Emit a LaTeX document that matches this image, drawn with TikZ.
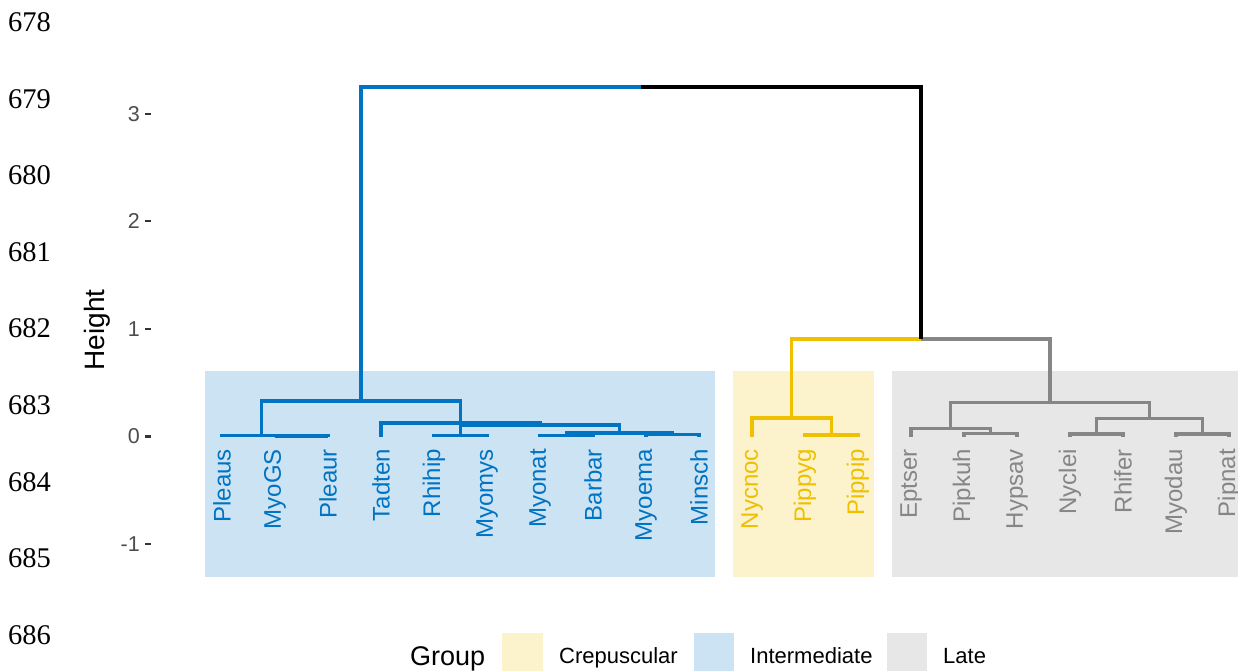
\documentclass[tikz,border=0pt]{standalone}
\usepackage{fontspec}
\setmainfont{Liberation Sans}
\newfontfamily\serifnum{Liberation Serif}
\definecolor{cblue}{HTML}{0073C2}
\definecolor{cyellow}{HTML}{EFC000}
\definecolor{cgray}{HTML}{868686}
\definecolor{fblue}{HTML}{CCE3F3}
\definecolor{fyellow}{HTML}{FCF2CC}
\definecolor{fgray}{HTML}{E7E7E7}
\definecolor{ticktext}{HTML}{4D4D4D}
\definecolor{tickline}{HTML}{333333}
\begin{document}
\begin{tikzpicture}[x=1pt,y=-1pt,
  br/.style={line width=3.4pt},
  leaflab/.style={rotate=90, anchor=east, inner sep=0pt, font=\fontsize{24}{24}\selectfont},
  ticklab/.style={anchor=east, inner sep=0pt, text=ticktext, font=\fontsize{21.5}{21.5}\selectfont},
  tickmark/.style={line width=2.2pt, tickline},
  rownum/.style={anchor=base west, inner sep=0pt, font=\serifnum\fontsize{28.5}{28.5}\selectfont},
  leglab/.style={anchor=base west, inner sep=0pt, font=\fontsize{22}{22}\selectfont}
]
\clip (0,0) rectangle (1238,670);
\fill[white] (0,0) rectangle (1238,670);

% row numbers at left
\foreach \n [count=\i from 0] in {678,...,686}
  \node[rownum] (row\n) at (8, 31.5+76.6*\i) {\n};

% group backgrounds
\fill[fblue] (205,371) rectangle (715,577);
\fill[fyellow] (733,371) rectangle (874,577);
\fill[fgray] (892,371) rectangle (1245,577);

% y axis
\node[rotate=90, inner sep=0pt, font=\fontsize{28}{28}\selectfont] (ylab) at (97,330) {Height};
\foreach \v/\y in {3/113.7, 2/221.3, 1/328.9, 0/436.5, -1/544.1}{
  \node[ticklab] at (140,\y) {\v};
  \draw[tickmark] (145,\y) -- (151,\y);
}

% leaves
\foreach \nm [count=\i from 0] in {Pleaus,MyoGS,Pleaur,Tadten,Rhihip,Myomys,Myonat,Barbar,Myoema,Minsch,Nycnoc,Pippyg,Pippip,Eptser,Pipkuh,Hypsav,Nyclei,Rhifer,Myodau,Pipnat}
  \coordinate (l\nm) at (222+53*\i, 436.5);

% internal nodes
\coordinate (nMG) at (301.5,435.9);
\coordinate (nP) at (261.75,435.3);
\coordinate (nRM) at (460.5,435.5);
\coordinate (nMB) at (566.5,435.5);
\coordinate (nMM) at (672.5,434.5);
\coordinate (nMBMM) at (619.5,433);
\coordinate (nR) at (540,425);
\coordinate (nT) at (460.5,423);
\coordinate (nA) at (361.1,401);
\coordinate (nPP) at (831.5,435);
\coordinate (nY) at (791.75,418);
\coordinate (nPH) at (990.5,433.3);
\coordinate (nE) at (950.75,428.3);
\coordinate (nNR) at (1096.5,434);
\coordinate (nMP) at (1202.5,434);
\coordinate (nG2) at (1149.5,418.3);
\coordinate (nG1) at (1050.1,402.7);
\coordinate (nK) at (920.9,339);
\coordinate (root) at (641,87);

% blue branches
\begin{scope}[br, cblue]
\draw (lMyoGS) |- (nMG); \draw (lPleaur) |- (nMG);
\draw (lPleaus) |- (nP); \draw (nMG) |- (nP);
\draw (lRhihip) |- (nRM); \draw (lMyomys) |- (nRM);
\draw (lMyonat) |- (nMB); \draw (lBarbar) |- (nMB);
\draw (lMyoema) |- (nMM); \draw (lMinsch) |- (nMM);
\draw (nMB) |- (nMBMM); \draw (nMM) |- (nMBMM);
\draw (nRM) |- (nR); \draw (nMBMM) |- (nR);
\draw (lTadten) |- (nT); \draw (nR) |- (nT);
\draw (nP) |- (nA); \draw (nT) |- (nA);
\draw (nA) |- (root);
\end{scope}
% yellow branches
\begin{scope}[br, cyellow]
\draw (lPippyg) |- (nPP); \draw (lPippip) |- (nPP);
\draw (lNycnoc) |- (nY); \draw (nPP) |- (nY);
\draw (nY) |- (nK);
\end{scope}
% gray branches
\begin{scope}[br, cgray]
\draw (lPipkuh) |- (nPH); \draw (lHypsav) |- (nPH);
\draw (lEptser) |- (nE); \draw (nPH) |- (nE);
\draw (lNyclei) |- (nNR); \draw (lRhifer) |- (nNR);
\draw (lMyodau) |- (nMP); \draw (lPipnat) |- (nMP);
\draw (nNR) |- (nG2); \draw (nMP) |- (nG2);
\draw (nE) |- (nG1); \draw (nG2) |- (nG1);
\draw (nG1) |- (nK);
\end{scope}
% black branch
\draw[br, black] (nK) |- (root);

% leaf labels
\foreach \nm [count=\i from 0] in {Pleaus,MyoGS,Pleaur,Tadten,Rhihip,Myomys,Myonat,Barbar,Myoema,Minsch}
  \node[leaflab, text=cblue] (t\nm) at (222+53*\i, 449) {\nm};
\foreach \nm [count=\i from 10] in {Nycnoc,Pippyg,Pippip}
  \node[leaflab, text=cyellow] (t\nm) at (222+53*\i, 449) {\nm};
\foreach \nm [count=\i from 13] in {Eptser,Pipkuh,Hypsav,Nyclei,Rhifer,Myodau,Pipnat}
  \node[leaflab, text=cgray] (t\nm) at (222+53*\i, 449) {\nm};

% legend
\node[anchor=base west, inner sep=0pt, font=\fontsize{27}{27}\selectfont] (legtitle) at (410,665) {Group};
\fill[fyellow] (502,633) rectangle (543,674);
\node[leglab] (legC) at (559,663) {Crepuscular};
\fill[fblue] (694,633) rectangle (734,674);
\node[leglab] (legI) at (750,663) {Intermediate};
\fill[fgray] (887,633) rectangle (927,674);
\node[leglab] (legL) at (943,663) {Late};
\end{tikzpicture}
\end{document}
